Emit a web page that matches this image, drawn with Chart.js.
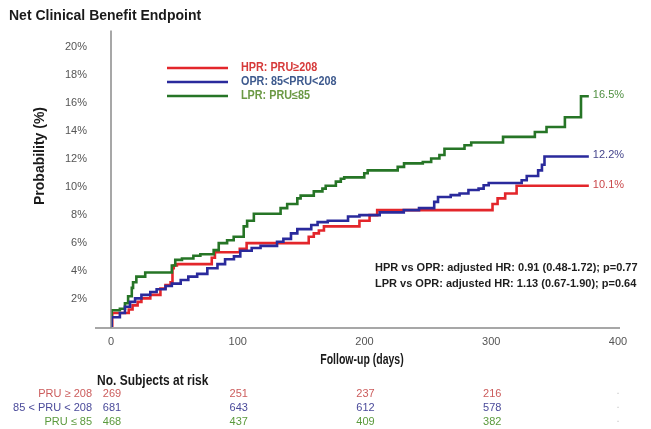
<!DOCTYPE html>
<html lang="en">
<head>
    <meta charset="UTF-8">
    <title>Net Clinical Benefit Endpoint</title>
    <script src="https://cdn.jsdelivr.net/npm/chart.js@4.4.0/dist/chart.umd.min.js"></script>
    <style>
        html, body { margin: 0; padding: 0; background: #fff; }
        #wrap { width: 651px; height: 429px; }
    </style>
</head>
<body>
<div id="wrap"><canvas id="myChart" width="651" height="429"></canvas></div>
<script>
    // Kaplan-Meier style curves (days, cumulative %)
    var hprDays = [0, 1, 14, 17, 21, 24, 31, 39, 43, 47, 48.5, 49.5, 52, 79.5, 82, 101.6, 107, 156, 160, 164, 168, 196, 204, 210, 301, 305, 311, 320, 377];
    var hprPct = [0, 1.0, 1.25, 1.55, 1.8, 2.05, 2.3, 2.75, 3.0, 3.2, 4.2, 4.4, 4.5, 4.95, 5.35, 5.6, 6.0, 6.45, 6.7, 6.9, 7.2, 7.6, 8.0, 8.36, 8.8, 9.2, 9.55, 10.1, 10.1];

    var oprDays = [0, 0.5, 7, 11, 15, 19, 24, 31, 36, 43, 48, 55, 61, 68, 76, 84, 90, 97, 102, 111, 118, 131, 136, 142, 147, 158, 163, 171, 187, 196, 212, 231, 243, 255, 258, 268, 275, 282, 290, 294, 298, 324, 328, 337, 340, 342, 377];
    var oprPct = [0, 0.7, 1.0, 1.45, 1.8, 2.05, 2.3, 2.5, 2.7, 2.93, 3.1, 3.36, 3.6, 3.8, 4.2, 4.5, 4.85, 5.05, 5.45, 5.65, 5.8, 6.1, 6.3, 6.7, 7.0, 7.3, 7.5, 7.6, 7.9, 8.0, 8.2, 8.36, 8.5, 8.95, 9.3, 9.43, 9.55, 9.8, 9.9, 10.14, 10.3, 10.5, 10.8, 11.2, 11.6, 12.2, 12.2];

    var lprDays = [0, 0.5, 7, 11, 13.5, 16.4, 17.4, 20, 27, 48, 50.7, 56, 65, 70.5, 81, 85, 91.6, 96.8, 104.7, 107.4, 112.7, 133.8, 139, 147, 149.6, 160, 166.8, 169.4, 177.4, 181.3, 184, 199.8, 202.5, 226.2, 231.2, 246, 252.6, 259.1, 263.1, 278.9, 284.2, 309.3, 334.4, 343.6, 358.1, 370.8, 377];
    var lprPct = [0, 1.2, 1.3, 1.7, 2.2, 2.8, 3.2, 3.6, 3.9, 4.4, 4.8, 4.9, 5.1, 5.2, 5.5, 6.0, 6.2, 6.45, 7.2, 7.6, 8.1, 8.5, 8.8, 9.2, 9.4, 9.7, 9.9, 10.1, 10.4, 10.6, 10.7, 11.0, 11.2, 11.45, 11.7, 11.8, 12.05, 12.3, 12.75, 13.0, 13.2, 13.6, 13.95, 14.3, 15.0, 16.5, 16.5];

    var seriesNames = ['HPR: PRU\u2265208', 'OPR: 85<PRU<208', 'LPR: PRU\u226485'];
    var yTicks = [2, 4, 6, 8, 10, 12, 14, 16, 18, 20];
    var xTicks = [0, 100, 200, 300, 400];

    // number at risk table
    var riskLabels = ['PRU \u2265 208', '85 < PRU < 208', 'PRU \u2264 85'];
    var riskDays = [0, 100, 200, 300];
    var riskHpr = [269, 251, 237, 216];
    var riskOpr = [681, 643, 612, 578];
    var riskLpr = [468, 437, 409, 382];

    var hrLines = [
        'HPR vs OPR: adjusted HR: 0.91 (0.48-1.72); p=0.77',
        'LPR vs OPR: adjusted HR: 1.13 (0.67-1.90); p=0.64'
    ];

    var lineColors = ['#e3262b', '#2a2a9c', '#267526'];
    var textColors = ['#d63a3a', '#3e5a8e', '#6b9944'];
    var endColors = ['#c9474a', '#45458c', '#4f8f40'];
    var riskColors = ['#cc5c5c', '#4a4a9a', '#5a9a3c'];

    var SANS = '"Liberation Sans", Arial, sans-serif';

    function toPoints(xs, ys) {
        var pts = [];
        for (var i = 0; i < xs.length; i++) pts.push({x: xs[i], y: ys[i]});
        return pts;
    }

    // draw text squeezed horizontally (the original uses a narrow font)
    function squeezed(ctx, text, x, y, sx) {
        ctx.save();
        ctx.translate(x, y);
        ctx.scale(sx, 1);
        ctx.fillText(text, 0, 0);
        ctx.restore();
    }

    var decor = {
        id: 'decor',
        afterDraw: function (chart) {
            var ctx = chart.ctx;
            var area = chart.chartArea;
            var xs = chart.scales.x, ys = chart.scales.y;
            ctx.save();

            // axis lines
            ctx.strokeStyle = '#8a8a8a';
            ctx.lineWidth = 1.5;
            ctx.beginPath();
            ctx.moveTo(area.left, area.top);
            ctx.lineTo(area.left, area.bottom + 1);
            ctx.moveTo(area.left - 16, area.bottom + 1);
            ctx.lineTo(area.right + 2, area.bottom + 1);
            ctx.stroke();

            // title
            ctx.fillStyle = '#1a1a1a';
            ctx.textBaseline = 'middle';
            ctx.textAlign = 'left';
            ctx.font = 'bold 14px ' + SANS;
            ctx.fillText('Net Clinical Benefit Endpoint', 9, 16);

            // y title
            ctx.save();
            ctx.translate(40, 156);
            ctx.rotate(-Math.PI / 2);
            ctx.textAlign = 'center';
            ctx.font = 'bold 14px ' + SANS;
            ctx.fillText('Probability (%)', 0, 0);
            ctx.restore();

            // x title
            ctx.textAlign = 'center';
            ctx.font = 'bold 14px ' + SANS;
            squeezed(ctx, 'Follow-up (days)', 362, 360, 0.75);

            // legend
            var ly = [68, 82, 96];
            for (var i = 0; i < 3; i++) {
                ctx.strokeStyle = lineColors[i];
                ctx.lineWidth = 2.5;
                ctx.beginPath();
                ctx.moveTo(167, ly[i]);
                ctx.lineTo(228, ly[i]);
                ctx.stroke();
                ctx.fillStyle = textColors[i];
                ctx.textAlign = 'left';
                ctx.font = 'bold 12px ' + SANS;
                squeezed(ctx, seriesNames[i], 241, ly[i], 0.9);
            }

            // end labels from last value of each curve
            var ends = [[hprDays, hprPct], [oprDays, oprPct], [lprDays, lprPct]];
            ctx.font = '11px ' + SANS;
            ctx.textAlign = 'left';
            for (var j = 0; j < 3; j++) {
                var d = ends[j][0], p = ends[j][1];
                var v = p[p.length - 1];
                ctx.fillStyle = endColors[j];
                ctx.fillText(v.toFixed(1) + '%', xs.getPixelForValue(d[d.length - 1]) + 4, ys.getPixelForValue(v) - 1);
            }

            // HR annotation
            ctx.fillStyle = '#1e1e1e';
            ctx.font = 'bold 11px ' + SANS;
            ctx.fillText(hrLines[0], 375, 268);
            ctx.fillText(hrLines[1], 375, 284);

            // at-risk table
            ctx.fillStyle = '#1a1a1a';
            ctx.font = 'bold 15px ' + SANS;
            squeezed(ctx, 'No. Subjects at risk', 97, 381, 0.8);
            var rows = [riskHpr, riskOpr, riskLpr];
            var ry = [394, 408, 422];
            ctx.font = '11px ' + SANS;
            for (var r = 0; r < 3; r++) {
                ctx.fillStyle = riskColors[r];
                ctx.textAlign = 'right';
                ctx.fillText(riskLabels[r], 92, ry[r]);
                ctx.textAlign = 'center';
                for (var k = 0; k < riskDays.length; k++) {
                    ctx.fillText(String(rows[r][k]), xs.getPixelForValue(riskDays[k]) + 1, ry[r]);
                }
                ctx.fillStyle = '#c8c8c8';
                ctx.fillText('.', xs.getPixelForValue(400), ry[r] - 3);
            }
            ctx.restore();
        }
    };

    var ctx = document.getElementById('myChart').getContext('2d');
    var chart = new Chart(ctx, {
        type: 'line',
        data: {
            datasets: [{
                label: seriesNames[1],
                data: toPoints(oprDays, oprPct),
                borderColor: lineColors[1],
                order: 0
            }, {
                label: seriesNames[0],
                data: toPoints(hprDays, hprPct),
                borderColor: lineColors[0],
                order: 2
            }, {
                label: seriesNames[2],
                data: toPoints(lprDays, lprPct),
                borderColor: lineColors[2],
                order: 1
            }]
        },
        options: {
            responsive: false,
            animation: false,
            layout: {padding: {left: 0, right: 33, top: 30, bottom: 0}},
            elements: {
                line: {borderWidth: 2.6, stepped: 'before', tension: 0},
                point: {radius: 0}
            },
            plugins: {legend: {display: false}, tooltip: {enabled: false}},
            scales: {
                x: {
                    type: 'linear',
                    min: 0,
                    max: 400,
                    grid: {display: false, drawTicks: false},
                    border: {display: false},
                    afterBuildTicks: function (s) {
                        s.ticks = xTicks.map(function (v) { return {value: v}; });
                    },
                    afterFit: function (s) { s.height = 102; },
                    ticks: {
                        padding: 8,
                        color: '#555',
                        font: {family: SANS, size: 11},
                        maxRotation: 0
                    }
                },
                y: {
                    type: 'linear',
                    min: 0,
                    max: 21.2,
                    grid: {display: false, drawTicks: false},
                    border: {display: false},
                    afterBuildTicks: function (s) {
                        s.ticks = yTicks.map(function (v) { return {value: v}; });
                    },
                    afterFit: function (s) { s.width = 111; },
                    ticks: {
                        padding: 24,
                        color: '#555',
                        font: {family: SANS, size: 11},
                        callback: function (v) { return v + '%'; }
                    }
                }
            }
        },
        plugins: [decor]
    });
</script>
</body>
</html>
